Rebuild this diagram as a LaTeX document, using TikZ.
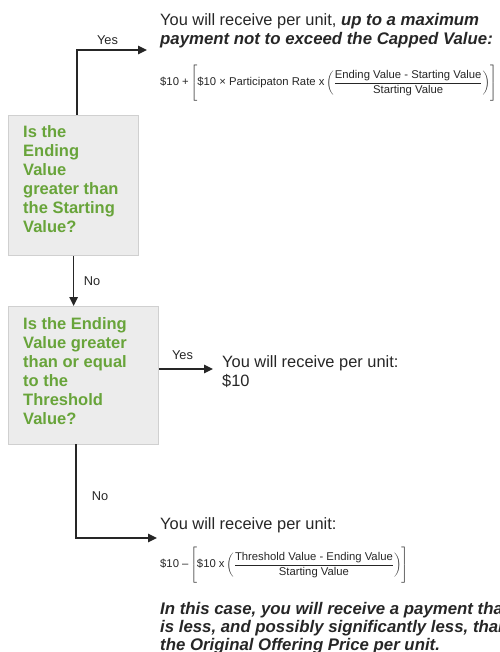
\documentclass[tikz,border=0pt]{standalone}
\usepackage{fontspec}
\setmainfont{Liberation Sans}
\usetikzlibrary{arrows.meta,calc}
\definecolor{qgreen}{RGB}{104,164,58}
\definecolor{boxfill}{RGB}{236,236,236}
\definecolor{boxline}{RGB}{208,208,208}
\definecolor{ink}{RGB}{38,38,38}
\newcommand{\mtx}[1]{\mbox{#1}}
\newcommand{\bi}[1]{{\fontsize{16.8}{18.5}\selectfont\bfseries\itshape #1}}
\begin{document}
\begin{tikzpicture}[x=1pt,y=-1pt,
  qbox/.style={draw=boxline, fill=boxfill, line width=1.2pt, inner sep=0pt, anchor=north west},
  qtext/.style={text=qgreen, font=\fontsize{16.5}{19}\selectfont\bfseries, align=left, anchor=base west, inner sep=0pt},
  body/.style={text=ink, font=\fontsize{16.4}{18.5}\selectfont, align=left, anchor=base west, inner sep=0pt},
  lbl/.style={text=ink, font=\fontsize{12.8}{14}\selectfont, inner sep=0pt},
  formula/.style={text=ink, font=\fontsize{11.3}{13}\selectfont, anchor=west, inner sep=0pt},
  conn/.style={draw=ink, line width=1.4pt, -{Triangle[length=9pt,width=8.5pt]}},
]
\useasboundingbox (0,0) rectangle (499,652);
\clip (0,0) rectangle (499,652);

% decision boxes
\node[qbox, minimum width=130pt, minimum height=140pt] (q1) at (8,115) {};
\node[qbox, minimum width=150pt, minimum height=138pt] (q2) at (8,306) {};
% anchor base = baseline of the last line
\node[qtext] (q1t) at (23,233) {Is the\\Ending\\Value\\greater than\\the Starting\\Value?};
\node[qtext] (q2t) at (23,424) {Is the Ending\\Value greater\\than or equal\\to the\\Threshold\\Value?};

% outcomes
\node[body] (r1) at (160,44.5) {You will receive per unit, \bi{up to a maximum}\\\bi{payment not to exceed the Capped Value:}};
\node[formula] (f1) at (160,83) {$\displaystyle \mtx{\$10 +}\left[\rule[-16pt]{0pt}{37pt}\mtx{\$10 × Participaton Rate x}\left(\frac{\mtx{Ending Value - Starting Value}}{\mtx{Starting Value}}\right)\right]$};
\node[body, font=\fontsize{16.4}{19}\selectfont] (r2) at (222,386) {You will receive per unit:\\\$10};
\node[body] (r3) at (160,529) {You will receive per unit:};
\node[formula] (f2) at (160,565) {$\displaystyle \mtx{\$10 –}\left[\rule[-16pt]{0pt}{37pt}\mtx{\$10 x}\left(\frac{\mtx{Threshold Value - Ending Value}}{\mtx{Starting Value}}\right)\right]$};
\node[body, font=\fontsize{16.8}{18}\selectfont\bfseries\itshape] (note) at (160,650) {In this case, you will receive a payment that\\is less, and possibly significantly less, than\\the Original Offering Price per unit.};

% connectors
\coordinate (y1s) at (77,115);
\coordinate (y1e) at (147,50);
\draw[conn] (y1s) |- (y1e);
\node[lbl] (y1l) at (107.5,40.5) {Yes};

\draw[conn] (q1.south) -- (q1.south |- q2.north);
\node[lbl] (n1l) at (92,281) {No};

\coordinate (y2e) at (213,369);
\draw[conn] (q2.east |- y2e) -- (y2e);
\node[lbl] (y2l) at (182.5,355) {Yes};

\coordinate (n2s) at (76,444);
\coordinate (n2e) at (157,538);
\draw[conn] (n2s) |- (n2e);
\node[lbl] (n2l) at (100,496) {No};
\end{tikzpicture}
\end{document}
